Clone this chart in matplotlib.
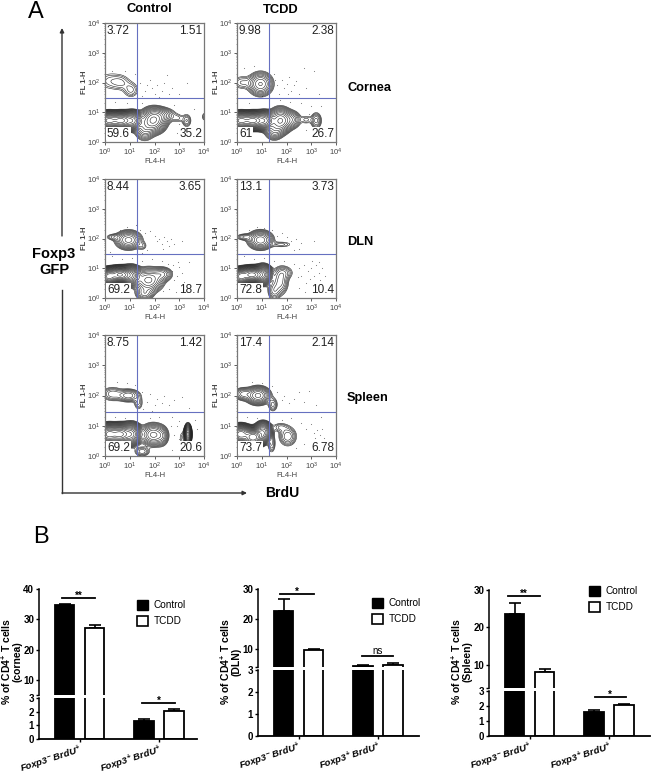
#!/usr/bin/env python3
# Flow cytometry panels (A) and broken-axis bar charts (B)
import numpy as np
import matplotlib
matplotlib.use("Agg")
import matplotlib.pyplot as plt
from matplotlib.patches import Patch

W, H = 653, 777
plt.rcParams["font.family"] = ["Liberation Sans", "DejaVu Sans"]
plt.rcParams["mathtext.default"] = "regular"

# =====================================================================
# Data
# =====================================================================
tissues = ["Cornea", "DLN", "Spleen"]
treatments = ["Control", "TCDD"]

# quadrant percentages: upper left, upper right, lower left, lower right
quad_cornea_control = ["3.72", "1.51", "59.6", "35.2"]
quad_cornea_tcdd = ["9.98", "2.38", "61", "26.7"]
quad_dln_control = ["8.44", "3.65", "69.2", "18.7"]
quad_dln_tcdd = ["13.1", "3.73", "72.8", "10.4"]
quad_spleen_control = ["8.75", "1.42", "69.2", "20.6"]
quad_spleen_tcdd = ["17.4", "2.14", "73.7", "6.78"]

# quadrant gate, log10 units
gate_x = 1.29
gate_y = 1.47

# cell populations: log10 x, log10 y, spread x, spread y, weight
pops_cornea_control = [(0.15, 0.72, 0.2, 0.115, 14), (0.65, 0.72, 0.2, 0.115, 14), (1.1, 0.72, 0.18, 0.13, 6),
                       (1.95, 0.72, 0.24, 0.19, 2.2), (1.6, 0.45, 0.2, 0.19, 0.6), (2.25, 0.9, 0.3, 0.13, 0.5),
                       (3.3, 0.72, 0.11, 0.13, 0.2), (2.95, 0.8, 0.14, 0.09, 0.1), (4.0, 0.85, 0.05, 0.09, 0.12),
                       (0.2, 2.05, 0.33, 0.19, 0.12), (0.65, 2.0, 0.24, 0.16, 0.12), (1.05, 1.75, 0.19, 0.16, 0.16)]
pops_cornea_tcdd = [(0.15, 0.72, 0.2, 0.115, 14), (0.65, 0.72, 0.2, 0.115, 14), (1.1, 0.72, 0.18, 0.13, 6),
                    (1.75, 0.72, 0.21, 0.19, 2.2), (1.5, 0.4, 0.19, 0.16, 0.6), (2.2, 0.75, 0.19, 0.15, 0.5),
                    (3.2, 0.72, 0.12, 0.15, 0.3), (2.8, 0.75, 0.14, 0.09, 0.12), (0.95, 1.95, 0.24, 0.19, 0.9),
                    (0.2, 2.0, 0.24, 0.14, 0.15)]
pops_dln_control = [(0.15, 0.72, 0.14, 0.11, 14), (0.6, 0.78, 0.22, 0.105, 18), (1.05, 0.75, 0.18, 0.14, 4),
                    (1.75, 0.6, 0.28, 0.19, 1.3), (2.3, 0.8, 0.21, 0.12, 0.5), (1.6, 0.15, 0.19, 0.12, 0.4),
                    (0.95, 1.95, 0.25, 0.15, 1.0), (0.35, 2.05, 0.19, 0.065, 0.15), (1.5, 1.75, 0.12, 0.09, 0.12)]
pops_dln_tcdd = [(0.15, 0.72, 0.14, 0.11, 14), (0.6, 0.78, 0.22, 0.105, 20), (1.05, 0.78, 0.16, 0.14, 4),
                 (1.75, 0.55, 0.17, 0.23, 0.4), (1.5, 0.25, 0.14, 0.17, 0.3), (1.9, 0.85, 0.21, 0.13, 0.2),
                 (0.95, 1.95, 0.24, 0.15, 1.1), (0.3, 2.05, 0.19, 0.065, 0.2), (1.8, 1.8, 0.28, 0.065, 0.12)]
pops_spleen_control = [(0.15, 0.72, 0.18, 0.13, 14), (0.6, 0.72, 0.2, 0.13, 14), (1.05, 0.72, 0.18, 0.15, 6),
                       (1.95, 0.7, 0.24, 0.17, 1.3), (1.5, 0.15, 0.17, 0.09, 0.25), (2.3, 0.65, 0.13, 0.16, 0.3),
                       (3.35, 0.72, 0.06, 0.13, 6), (3.15, 0.6, 0.11, 0.17, 0.1),
                       (0.95, 2.0, 0.24, 0.11, 0.45), (0.3, 2.05, 0.24, 0.13, 0.25), (1.35, 1.75, 0.11, 0.14, 0.15)]
pops_spleen_tcdd = [(0.15, 0.72, 0.18, 0.12, 16), (0.65, 0.62, 0.18, 0.12, 22), (1.05, 0.78, 0.15, 0.14, 5),
                    (2.05, 0.65, 0.19, 0.17, 0.35), (1.4, 0.4, 0.09, 0.17, 0.2), (1.75, 0.95, 0.19, 0.09, 0.15),
                    (0.85, 2.0, 0.23, 0.14, 1.3), (0.25, 2.05, 0.19, 0.11, 0.4), (1.45, 1.7, 0.11, 0.13, 0.22)]

# outlying events, log10 units
dots_cornea_control = [(1.4, 2.0), (1.6, 1.7), (1.8, 2.1), (2.0, 1.6), (2.1, 1.9), (2.3, 1.7), (1.5, 1.55), (1.9, 1.8),
                       (2.4, 2.0), (2.6, 1.6), (2.7, 1.8), (1.2, 2.3), (0.8, 2.4), (1.1, 1.6), (3.0, 1.6), (3.3, 2.0),
                       (2.8, 1.25), (3.0, 0.6), (2.9, 0.3), (3.5, 0.5), (3.6, 1.1), (0.4, 1.35), (0.9, 1.3), (1.5, 1.3),
                       (1.7, 1.9), (2.2, 1.5), (0.3, 2.4), (2.5, 2.25)]
dots_cornea_tcdd = [(1.5, 2.3), (1.6, 1.9), (1.7, 1.6), (1.8, 2.1), (1.9, 1.8), (2.0, 1.95), (2.1, 2.2), (2.2, 1.7),
                    (2.3, 1.9), (2.4, 2.05), (2.5, 1.6), (2.8, 1.8), (3.1, 2.4), (3.3, 1.6), (2.7, 2.5), (1.3, 2.5),
                    (0.7, 2.55), (0.3, 2.5), (1.0, 1.55), (0.5, 1.3), (2.6, 1.3), (2.8, 0.4), (3.0, 1.2), (3.4, 1.2),
                    (3.6, 0.3), (3.0, 0.2), (1.75, 1.4), (2.15, 1.35), (2.05, 1.62), (1.55, 2.1), (2.9, 0.95)]
dots_dln_control = [(1.4, 2.3), (1.6, 2.2), (1.8, 2.25), (2.0, 2.1), (2.1, 1.9), (2.2, 2.0), (2.3, 1.8), (2.4, 2.05),
                    (2.5, 1.9), (2.35, 1.65), (2.6, 1.75), (2.65, 2.0), (2.8, 1.8), (3.1, 1.9), (0.6, 2.3), (0.9, 2.4),
                    (1.5, 1.5), (1.7, 1.6), (0.3, 1.4), (0.7, 1.3), (1.1, 1.35), (1.5, 1.25), (1.9, 1.3), (2.3, 1.25),
                    (2.7, 0.9), (2.8, 0.6), (2.9, 0.75), (3.0, 1.05), (3.1, 0.85), (3.2, 0.55), (2.6, 0.3), (2.85, 0.2),
                    (2.95, 0.45), (3.4, 1.2), (2.75, 1.1), (2.55, 1.15), (2.35, 0.25), (0.2, 1.55), (1.25, 2.45), (2.95, 1.2)]
dots_dln_tcdd = [(1.4, 2.3), (1.6, 2.1), (1.8, 2.2), (2.0, 2.05), (2.2, 1.9), (2.4, 2.0), (2.5, 1.65), (2.6, 1.85),
                 (2.3, 1.6), (0.5, 2.3), (0.8, 2.4), (1.1, 2.35), (3.1, 1.9), (0.3, 1.4), (0.7, 1.3), (1.1, 1.35),
                 (1.5, 1.25), (1.9, 1.25), (2.3, 1.15), (2.5, 1.0), (2.6, 0.75), (2.7, 1.1), (2.85, 0.9), (3.0, 1.0),
                 (3.1, 0.75), (3.2, 1.1), (3.3, 0.85), (3.35, 0.6), (3.45, 1.0), (3.55, 0.75), (3.15, 0.5), (2.8, 0.5),
                 (2.5, 0.35), (2.75, 0.2), (2.95, 0.65), (3.05, 1.25), (3.3, 1.2), (2.45, 0.7)]
dots_spleen_control = [(0.5, 2.45), (0.9, 2.4), (1.2, 2.35), (1.5, 2.1), (1.7, 1.8), (1.8, 2.05), (2.0, 1.7), (2.1, 1.9),
                       (2.3, 1.75), (2.4, 2.0), (2.6, 1.7), (2.8, 1.85), (3.1, 1.95), (3.4, 1.6), (0.4, 1.3), (0.8, 1.25),
                       (1.3, 1.3), (1.8, 1.25), (2.2, 1.3), (2.7, 1.3), (3.0, 1.15), (3.1, 0.3), (2.7, 0.2), (2.8, 0.7),
                       (2.9, 1.0), (3.0, 0.55), (3.7, 0.9), (3.75, 0.4), (3.65, 1.2), (2.65, 1.0), (1.55, 1.55), (1.9, 1.5)]
dots_spleen_tcdd = [(0.6, 2.45), (1.0, 2.4), (1.4, 2.3), (1.6, 2.1), (1.8, 1.85), (1.9, 2.0), (2.1, 1.75), (2.3, 1.9),
                    (2.5, 2.1), (2.7, 1.8), (2.9, 2.15), (3.2, 1.7), (0.4, 1.3), (0.8, 1.25), (1.3, 1.3), (1.8, 1.2),
                    (2.2, 1.25), (2.6, 1.1), (2.8, 0.9), (3.0, 1.05), (3.1, 0.75), (3.15, 0.6), (3.25, 0.85), (3.3, 0.5),
                    (3.35, 0.7), (3.45, 0.9), (3.5, 0.6), (3.55, 0.35), (2.7, 0.4), (2.4, 0.25), (2.95, 0.3), (3.4, 1.3)]

# bar values: Foxp3- control, Foxp3- TCDD, Foxp3+ control, Foxp3+ TCDD
bar_names = [r"Foxp3$^{-}$ BrdU$^{+}$", r"Foxp3$^{+}$ BrdU$^{+}$"]
means_cornea = [34.7, 27.0, 1.35, 2.05]
errs_cornea = [0.3, 1.0, 0.08, 0.17]
means_dln = [22.8, 9.9, 4.5, 5.0]
errs_dln = [3.9, 0.3, 0.5, 0.5]
means_spleen = [23.6, 8.1, 1.57, 2.05]
errs_spleen = [2.9, 0.9, 0.15, 0.07]

# =====================================================================
# Layout helpers
# =====================================================================
fig = plt.figure(figsize=(W / 100, H / 100), dpi=100, facecolor="white")


def px_axes(left, top, right, bottom):
    return fig.add_axes([left / W, 1 - bottom / H, (right - left) / W, (bottom - top) / H])


def flow_panel(left, top, right, bottom, pops, dots, quad):
    ax = px_axes(left, top, right, bottom)
    gx = np.linspace(0, 4, 300)
    gy = np.linspace(0, 4, 300)
    xx, yy = np.meshgrid(gx, gy)
    dens = np.zeros_like(xx)
    for mx, my, sx, sy, w in pops:
        dens += w * np.exp(-0.5 * ((xx - mx) / sx) ** 2 - 0.5 * ((yy - my) / sy) ** 2)
    ax.contour(10 ** gx, 10 ** gy, dens, levels=np.geomspace(0.06, 30, 22), colors="#222222", linewidths=0.4)

    ex, ey = zip(*dots)
    ax.scatter(10 ** np.array(ex), 10 ** np.array(ey), s=0.6, color="#777777", linewidths=0)

    ax.axvline(10 ** gate_x, color="#6670c0", lw=0.8)
    ax.axhline(10 ** gate_y, color="#6670c0", lw=0.8)

    ax.set_xscale("log")
    ax.set_yscale("log")
    ax.set_xlim(1, 1e4)
    ax.set_ylim(1, 1e4)
    ax.set_xticks([1, 10, 100, 1000, 10000])
    ax.set_yticks([1, 10, 100, 1000, 10000])
    for s in ax.spines.values():
        s.set_color("#777777")
        s.set_linewidth(0.9)
    ax.tick_params(which="major", labelsize=5.5, length=2.5, width=0.6, pad=1, colors="#444444")
    ax.tick_params(which="minor", length=1, width=0.4, colors="#555555")
    ax.set_xlabel("FL4-H", fontsize=5.5, color="#444444", labelpad=0)
    ax.set_ylabel("FL 1-H", fontsize=5.5, color="#444444", labelpad=-1, fontweight="bold")

    ax.text(0.02, 0.93, quad[0], transform=ax.transAxes, fontsize=8.5, va="center", color="#222222")
    ax.text(0.98, 0.93, quad[1], transform=ax.transAxes, fontsize=8.5, va="center", ha="right", color="#222222")
    box = dict(facecolor="white", edgecolor="none", pad=0.5)
    ax.text(0.02, 0.07, quad[2], transform=ax.transAxes, fontsize=8.5, va="center", color="#222222", bbox=box)
    ax.text(0.98, 0.07, quad[3], transform=ax.transAxes, fontsize=8.5, va="center", ha="right", color="#222222", bbox=box)


def bar_panel(left, right, y0, y3, ybreak, top, ylow, ymax, means, errs, upper_ticks, sig, legend_xy):
    # y0/y3 = pixel rows of 0 and 3, ybreak/top = pixel rows of the upper segment
    low = px_axes(left, y3, right, y0)
    up = px_axes(left, top, right, ybreak)
    xs = [0, 1, 2.65, 3.65]
    xlim = (-0.85, -0.85 + (right - left) / 30)
    colors = ["black", "white", "black", "white"]
    for ax in (low, up):
        for x, m, e, c in zip(xs, means, errs, colors):
            ax.errorbar(x, m, yerr=[[0], [e]], color="black", capsize=4, elinewidth=1.2, capthick=1.2, zorder=1)
            ax.bar(x, m, width=0.66, color=c, edgecolor="black", linewidth=1.3, zorder=2)
        ax.set_xlim(*xlim)
        for s in ("top", "right"):
            ax.spines[s].set_visible(False)
        ax.spines["left"].set_linewidth(1.1)
        ax.tick_params(axis="y", length=2.5, width=1, pad=1, labelsize=7)
    low.set_ylim(0, 3)
    low.set_yticks([0, 1, 2, 3])
    low.set_yticklabels(["0", "1", "2", "3"], fontweight="bold")
    low.spines["bottom"].set_linewidth(1.3)
    low.set_xticks([0.5, 3.15])
    low.set_xticklabels(bar_names, rotation=18, ha="right", rotation_mode="anchor", fontsize=6.8,
                        fontweight="bold", style="italic")
    low.tick_params(axis="x", length=2, width=1, pad=0.5)

    up.set_ylim(ylow, ymax)
    up.set_yticks([ylow] + upper_ticks)
    up.set_yticklabels([""] + [str(t) for t in upper_ticks], fontweight="bold")
    up.spines["bottom"].set_visible(False)
    up.set_xticks([])

    # significance bars
    for which, x1, x2, yv, label in sig:
        ax = up if which == "up" else low
        ax.plot([x1, x2], [yv, yv], color="black", lw=1.3, clip_on=False, zorder=3)
        offset = 0 if label == "ns" else -2
        ax.annotate(label, ((x1 + x2) / 2, yv), xytext=(0, offset), textcoords="offset points",
                    ha="center", va="bottom", fontsize=7,
                    fontweight="bold" if label != "ns" else "normal", annotation_clip=False)

    up.legend(handles=[Patch(facecolor="black", edgecolor="black", label="Control"),
                       Patch(facecolor="white", edgecolor="black", linewidth=1.2, label="TCDD")],
              loc="upper left", bbox_to_anchor=(legend_xy[0] / W, 1 - legend_xy[1] / H),
              bbox_transform=fig.transFigure, frameon=False, fontsize=7.2, handlelength=1.1, handleheight=1.2,
              handletextpad=0.55, labelspacing=0.5, borderpad=0, borderaxespad=0)


# =====================================================================
# Panel A: flow plots
# =====================================================================
flow_panel(105, 23, 204, 142, pops_cornea_control, dots_cornea_control, quad_cornea_control)
flow_panel(237, 23, 336, 142, pops_cornea_tcdd, dots_cornea_tcdd, quad_cornea_tcdd)
flow_panel(105, 179, 204, 298, pops_dln_control, dots_dln_control, quad_dln_control)
flow_panel(237, 179, 336, 298, pops_dln_tcdd, dots_dln_tcdd, quad_dln_tcdd)
flow_panel(105, 335, 204, 456, pops_spleen_control, dots_spleen_control, quad_spleen_control)
flow_panel(237, 335, 336, 456, pops_spleen_tcdd, dots_spleen_tcdd, quad_spleen_tcdd)

# =====================================================================
# Panel B: bar charts with a broken y axis
# =====================================================================
bar_panel(39, 197, 739, 698, 695, 589, 5, 40, means_cornea, errs_cornea, [10, 20, 30, 40],
          [("up", -0.08, 1.02, 37, "**"), ("low", 2.58, 3.68, 2.63, "*")], (137, 600))
bar_panel(258, 419, 736, 670, 667, 589, 4.2, 30, means_dln, errs_dln, [10, 20, 30],
          [("up", -0.12, 1.0, 28.3, "*"), ("up", 2.6, 3.65, 7.7, "ns")], (372, 598))
bar_panel(489, 650, 736, 691, 688, 590, 3.8, 30, means_spleen, errs_spleen, [10, 20, 30],
          [("up", -0.22, 0.85, 28.4, "**"), ("low", 2.67, 3.72, 2.6, "*")], (589, 586))

# =====================================================================
# Overlay in pixel coordinates: headers, arrows, panel letters
# =====================================================================
ov = fig.add_axes([0, 0, 1, 1], zorder=10)
ov.set_xlim(0, W)
ov.set_ylim(H, 0)
ov.axis("off")

ov.text(28, 12, "A", fontsize=17, va="center")
ov.text(33, 537, "B", fontsize=17, va="center")
ov.text(149, 9, treatments[0], fontsize=9.3, fontweight="bold", ha="center", va="center")
ov.text(281, 10, treatments[1], fontsize=9.3, fontweight="bold", ha="center", va="center")
for name, yp in zip(tissues, [88, 242, 398]):
    ov.text(347, yp, name, fontsize=9.2, fontweight="bold", va="center")
ov.text(54, 262, "Foxp3\nGFP", fontsize=10.5, fontweight="bold", ha="center", va="center", linespacing=1.15)
ov.text(265, 493, "BrdU", fontsize=10, fontweight="bold", va="center")

arrow = dict(arrowstyle="-|>", color="#333333", lw=1.0, mutation_scale=6, shrinkA=0, shrinkB=0)
ov.annotate("", xy=(62, 28), xytext=(62, 236), arrowprops=arrow)
ov.plot([62, 62], [290, 493], color="#333333", lw=1.0)
ov.annotate("", xy=(247, 493), xytext=(62, 493), arrowprops=arrow)

for xp, tail in zip([11, 230, 461], ["(cornea)", "(DLN)", "(Spleen)"]):
    ov.text(xp, 662, "% of CD4$^{+}$ T cells\n" + tail, rotation=90, fontsize=7.5, fontweight="bold",
            ha="center", va="center", linespacing=0.95)

fig.savefig("out.png", dpi=100)
